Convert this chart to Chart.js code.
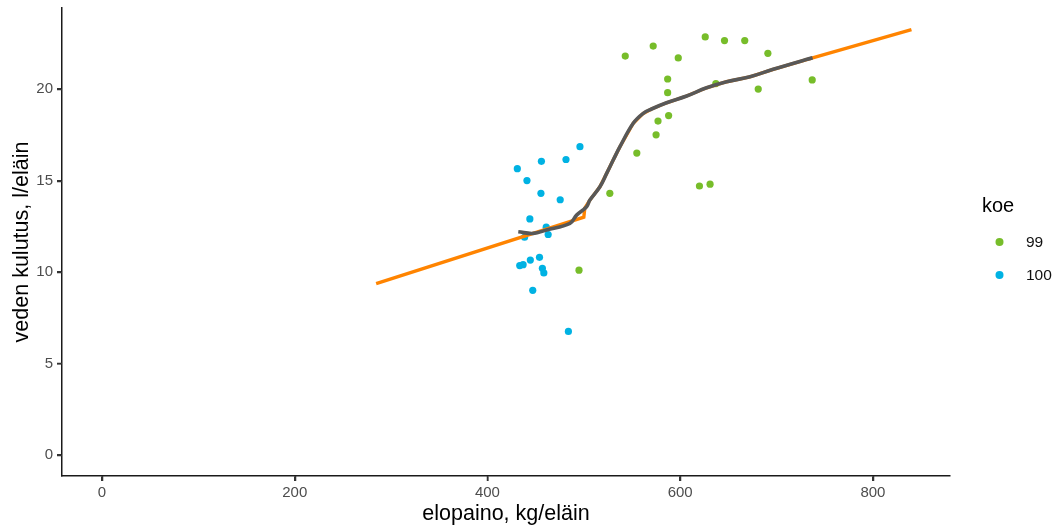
<!DOCTYPE html>
<html>
<head>
<meta charset="utf-8">
<script src="https://cdn.jsdelivr.net/npm/chart.js@4"></script>
<style>
  html, body { margin: 0; padding: 0; background: #fff; }
  #wrap { width: 1055px; height: 526px; }
</style>
</head>
<body>
<div id="wrap"><canvas id="chart" width="1055" height="526"></canvas></div>
<script>
// koe 99
const x99 = [543, 572, 598, 626, 646, 667, 691, 587, 587, 637, 681, 737, 588, 577, 575, 555, 620, 631, 527, 495];
const y99 = [21.8, 22.35, 21.7, 22.85, 22.65, 22.65, 21.95, 20.55, 19.8, 20.3, 20.0, 20.5, 18.55, 18.25, 17.5, 16.5, 14.7, 14.8, 14.3, 10.1];
// koe 100
const x100 = [431, 456, 481.5, 496, 441, 455.5, 475.5, 444, 461, 463, 438.5, 454, 444.5, 437, 433.5, 457, 458.5, 447, 484];
const y100 = [15.65, 16.05, 16.15, 16.85, 15.0, 14.3, 13.95, 12.9, 12.45, 12.05, 11.9, 10.8, 10.65, 10.4, 10.35, 10.2, 9.95, 9.0, 6.75];

// tasoitettu käyrä (harmaa)
const smoothX = [432, 447.5, 461.4, 485.6, 492.5, 502.9, 506.3, 516.7, 523.7, 530.5, 537.5, 551.3, 561.7, 570.3, 585.9, 606.7, 627.4, 648.2, 672.4, 696.5, 737.4];
const smoothY = [12.2, 12.11, 12.3, 12.66, 13.11, 13.57, 13.93, 14.66, 15.39, 16.12, 16.85, 18.13, 18.67, 18.91, 19.25, 19.62, 20.07, 20.40, 20.67, 21.08, 21.71];

// oranssi viiva
const orangeX = [284.5, 500, 501, 506.3, 516.7, 523.7, 530.5, 537.5, 551.3, 561.7, 570.3, 585.9, 606.7, 627.4, 648.2, 672.4, 696.5, 737.4, 840];
const orangeY = [9.36, 13.0, 13.5, 13.93, 14.66, 15.39, 16.12, 16.85, 18.13, 18.67, 18.91, 19.25, 19.62, 20.07, 20.40, 20.67, 21.08, 21.71, 23.25];

const xTicks = [0, 200, 400, 600, 800];
const yTicks = [0, 5, 10, 15, 20];
const groups = ['99', '100'];
const colors = ['#77bd2a', '#00b2e3'];

const toPts = (xs, ys) => xs.map((x, i) => ({ x: x, y: ys[i] }));
const FONT = '"Liberation Sans", Arial, sans-serif';

// legenda oikealle, ggplot-tyyliin
const legendPlugin = {
  id: 'ggLegend',
  afterDraw(chart) {
    const ctx = chart.ctx;
    ctx.save();
    ctx.fillStyle = '#000';
    ctx.font = '20px ' + FONT;
    ctx.textAlign = 'left';
    ctx.textBaseline = 'middle';
    ctx.fillText('koe', 982, 206);
    ctx.font = '15.5px ' + FONT;
    groups.forEach((g, i) => {
      const y = 242 + i * 33;
      ctx.beginPath();
      ctx.arc(999.5, y, 4, 0, Math.PI * 2);
      ctx.fillStyle = colors[i];
      ctx.fill();
      ctx.fillStyle = '#111';
      ctx.fillText(g, 1026, y + 1);
    });
    ctx.restore();
  }
};

// akselien pienet väkäset
const tickMarks = {
  id: 'tickMarks',
  afterDraw(chart) {
    const ctx = chart.ctx, a = chart.chartArea;
    const sx = chart.scales.x, sy = chart.scales.y;
    ctx.save();
    ctx.strokeStyle = '#333333';
    ctx.lineWidth = 1.5;
    ctx.beginPath();
    xTicks.forEach(v => { const p = Math.round(sx.getPixelForValue(v)) + 0.5; ctx.moveTo(p, a.bottom); ctx.lineTo(p, a.bottom + 5); });
    yTicks.forEach(v => { const p = Math.round(sy.getPixelForValue(v)) + 0.5; ctx.moveTo(a.left, p); ctx.lineTo(a.left - 5, p); });
    ctx.stroke();
    ctx.restore();
  }
};

const noPad = s => { s.paddingTop = 0; s.paddingBottom = 0; s.paddingLeft = 0; s.paddingRight = 0; };

new Chart(document.getElementById('chart'), {
  type: 'scatter',
  data: {
    datasets: [
      { label: '99', data: toPts(x99, y99), backgroundColor: colors[0], borderWidth: 0, pointRadius: 3.6, order: 3 },
      { label: '100', data: toPts(x100, y100), backgroundColor: colors[1], borderWidth: 0, pointRadius: 3.6, order: 4 },
      { label: 'lin', data: toPts(orangeX, orangeY), showLine: true, borderColor: '#ff8400', borderWidth: 3.4, pointRadius: 0, tension: 0, order: 2 },
      { label: 'loess', data: toPts(smoothX, smoothY), showLine: true, borderColor: '#585858', borderWidth: 3.6, pointRadius: 0, tension: 0.4, order: 1 }
    ]
  },
  options: {
    responsive: false,
    animation: false,
    layout: { padding: { top: 8, right: 105, bottom: 0, left: 0 } },
    plugins: { legend: { display: false }, tooltip: { enabled: false } },
    scales: {
      x: {
        type: 'linear',
        min: -41.5,
        max: 880,
        afterBuildTicks: s => { s.ticks = xTicks.map(v => ({ value: v })); },
        afterFit: s => { s.height = 50; noPad(s); },
        grid: { drawOnChartArea: false, drawTicks: true, tickLength: 5, color: '#333', lineWidth: 1.5 },
        border: { color: '#1a1a1a', width: 1.5 },
        ticks: { color: '#4d4d4d', font: { family: FONT, size: 15 }, padding: 3, maxRotation: 0 },
        title: { display: true, text: 'elopaino, kg/eläin', color: '#000', font: { family: FONT, size: 21.5, lineHeight: 1 }, padding: { top: 0, bottom: 1 } }
      },
      y: {
        type: 'linear',
        min: -1.15,
        max: 24.43,
        afterBuildTicks: s => { s.ticks = yTicks.map(v => ({ value: v })); },
        afterFit: s => { s.width = 62; noPad(s); },
        grid: { drawOnChartArea: false, drawTicks: true, tickLength: 5, color: '#333', lineWidth: 1.5 },
        border: { color: '#1a1a1a', width: 1.5 },
        ticks: { color: '#4d4d4d', font: { family: FONT, size: 15 }, padding: 4 },
        title: { display: true, text: 'veden kulutus, l/eläin', color: '#000', font: { family: FONT, size: 21.5, lineHeight: 1 }, padding: { top: 11, bottom: 0 } }
      }
    }
  },
  plugins: [legendPlugin, tickMarks]
});
</script>
</body>
</html>
